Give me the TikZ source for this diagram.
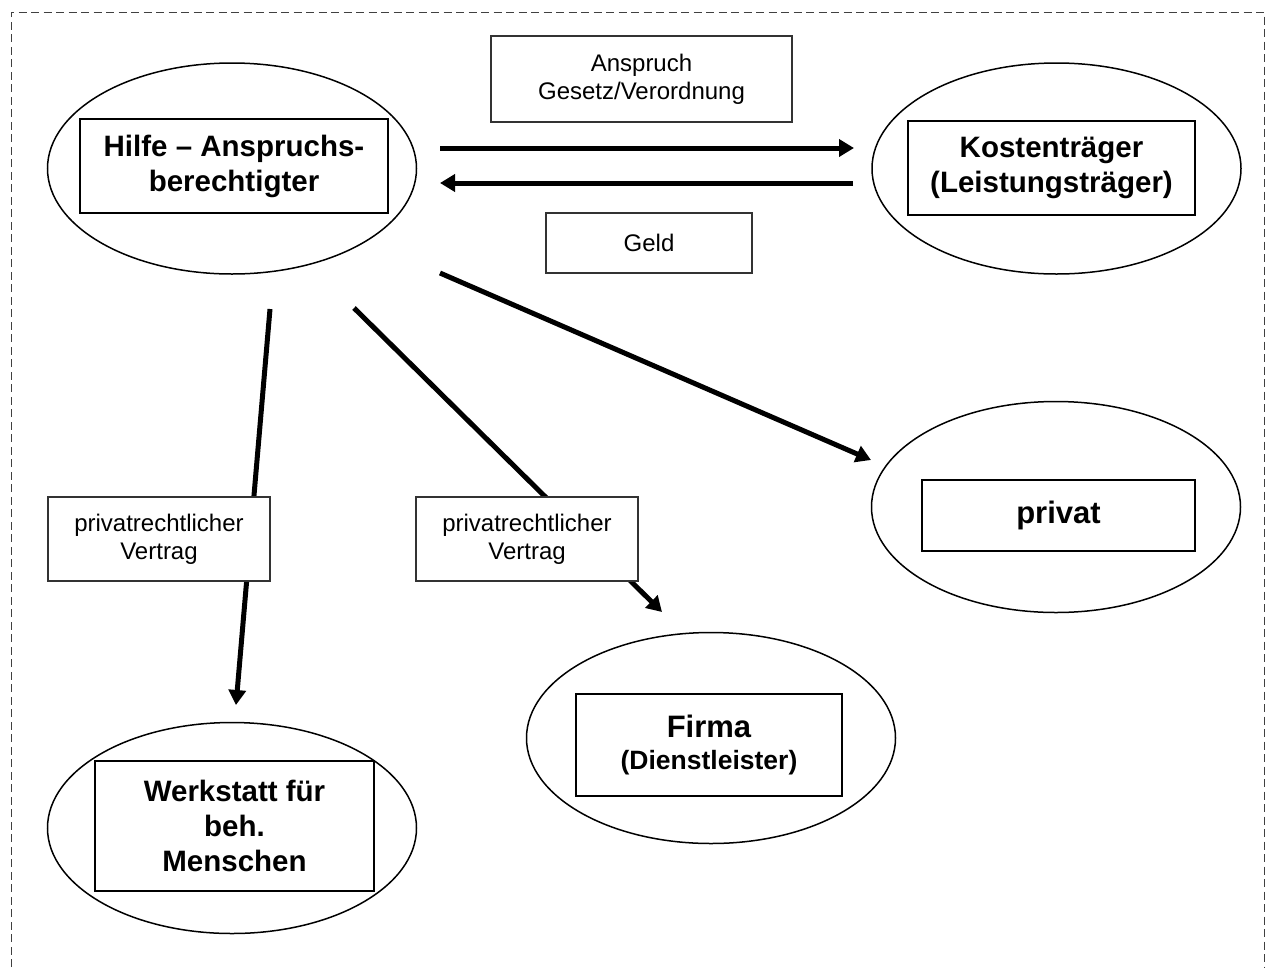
\documentclass[tikz,border=0pt]{standalone}
\usepackage{fontspec}
\setmainfont{Liberation Sans}
\usetikzlibrary{shapes.geometric,arrows.meta}
\begin{document}
\begin{tikzpicture}[x=1pt,y=-1pt,
  oval/.style={ellipse,draw,line width=1.5pt,minimum width=369pt,minimum height=211pt,inner sep=0pt},
  mainbox/.style={draw,line width=2pt,fill=white,inner sep=0pt,align=center,font=\bfseries\fontsize{29.5}{35}\selectfont},
  labelbox/.style={draw=black!80,line width=1.2pt,fill=white,inner sep=0pt,align=center,font=\fontsize{24}{27.6}\selectfont},
  flow/.style={line width=5pt,-{Triangle[length=15pt,width=17pt]}},
  frame/.style={draw=black!75,line width=1pt,dash pattern=on 8pt off 4.5pt}]
\useasboundingbox (0,0) rectangle (1274,967);
% frame
\draw[frame] (11,967) -- (11,12) -- (1264,12) -- (1264,967);
% ellipses
\node[oval] (e1) at (232,168.5) {};
\node[oval] (e2) at (1056.5,168.5) {};
\node[oval] (e3) at (1056,507) {};
\node[oval] (e4) at (711,738) {};
\node[oval] (e5) at (232,828) {};
% connector end points
\coordinate (a1s) at (440,148);
\coordinate (a1e) at (854,148);
\coordinate (a2s) at (853,183);
\coordinate (a2e) at (440,183);
\coordinate (p1s) at (440,273);
\coordinate (p1e) at (871,460);
\coordinate (w1s) at (270,309);
\coordinate (w1e) at (236,705);
\coordinate (f1s) at (354,308);
\coordinate (f1e) at (662,612);
% arrows
\draw[flow] (a1s) -- (a1e);
\draw[flow] (a2s) -- (a2e);
\draw[flow] (p1s) -- (p1e);
\draw[flow] (w1s) -- (w1e);
\draw[flow] (f1s) -- (f1e);
% main boxes
\node[mainbox,minimum width=308pt,minimum height=94pt] (hilfe) at (234,166) {Hilfe – Anspruchs-\\berechtigter};
\node[mainbox,minimum width=287pt,minimum height=94pt] (kosten) at (1051.5,168) {Kostenträger\\(Leistungsträger)};
\node[mainbox,minimum width=273pt,minimum height=71pt,font=\bfseries\fontsize{31}{35}\selectfont] (privat) at (1058.5,515.5) {privat};
\node[mainbox,minimum width=266pt,minimum height=102pt,font=\bfseries\fontsize{26.5}{31.7}\selectfont] (firma) at (709,745) {{\fontsize{31}{31.7}\selectfont Firma}\\(Dienstleister)};
\node[mainbox,minimum width=279pt,minimum height=130pt] (werk) at (234.5,826) {Werkstatt für\\beh.\\Menschen};
% label boxes
\node[labelbox,minimum width=301pt,minimum height=86pt] (anspruch) at (641.5,79) {Anspruch\\Gesetz/Verordnung};
\node[labelbox,minimum width=206pt,minimum height=60pt] (geld) at (649,243) {Geld};
\node[labelbox,minimum width=222pt,minimum height=84pt] (vl) at (159,539) {privatrechtlicher\\Vertrag};
\node[labelbox,minimum width=222pt,minimum height=84pt] (vm) at (527,539) {privatrechtlicher\\Vertrag};
\end{tikzpicture}
\end{document}
